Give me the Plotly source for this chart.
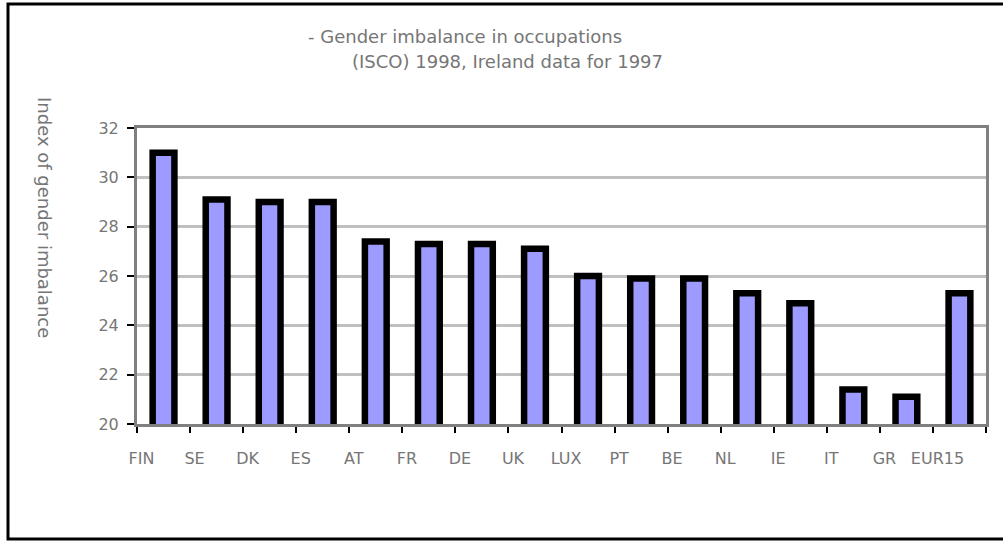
import plotly.graph_objects as go

# Data
countries = ['FIN', 'SE', 'DK', 'ES', 'AT', 'FR', 'DE', 'UK', 'LUX', 'PT',
             'BE', 'NL', 'IE', 'IT', 'GR', 'EUR15']
imbalance = [31.0, 29.1, 29.0, 29.0, 27.4, 27.3, 27.3, 27.1, 26.0, 25.9,
             25.9, 25.3, 24.9, 21.4, 21.1, 25.3]
y_ticks = [20, 22, 24, 26, 28, 30, 32]

title_lines = ['- Gender imbalance in occupations',
               '(ISCO) 1998, Ireland data for 1997']
y_title = 'Index of gender imbalance'

text_grey = '#767676'
font_name = 'DejaVu Sans'

# plot area in page pixels: x 137..986, y 128..424
def px_x(p):
    return (p - 137) / 849

def px_y(p):
    return (424 - p) / 296

fig = go.Figure()
fig.add_trace(go.Bar(
    x=countries, y=imbalance,
    width=0.41,
    marker=dict(color='#9D9BFF', line=dict(color='black', width=6.5)),
    hoverinfo='x+y'
))

# Axes
fig.update_xaxes(
    type='category',
    showline=True, linecolor='#808080', linewidth=3, mirror=True,
    ticks='outside', tickson='boundaries', ticklen=6, tickwidth=2, tickcolor='black',
    tickangle=0, ticklabelshift=-22, ticklabelstandoff=18,
    tickfont=dict(family=font_name, size=16, color=text_grey),
    showgrid=False
)
fig.update_yaxes(
    range=[20, 32], tickvals=y_ticks,
    showline=True, linecolor='#808080', linewidth=3, mirror=True,
    ticks='outside', ticklen=7, tickwidth=2, tickcolor='black',
    ticklabelstandoff=5,
    tickfont=dict(family=font_name, size=16, color=text_grey),
    showgrid=True, gridcolor='#C0C0C0', gridwidth=2.5,
    zeroline=False
)

# Title (two lines, second indented) and rotated axis title
fig.add_annotation(text=title_lines[0], xref='paper', yref='paper',
                   x=px_x(306), y=px_y(36),
                   xanchor='left', yanchor='middle', showarrow=False,
                   font=dict(family=font_name, size=18, color=text_grey))
fig.add_annotation(text=title_lines[1], xref='paper', yref='paper',
                   x=px_x(350), y=px_y(62),
                   xanchor='left', yanchor='middle', showarrow=False,
                   font=dict(family=font_name, size=18, color=text_grey))
fig.add_annotation(text=y_title, xref='paper', yref='paper',
                   x=px_x(45), y=px_y(217),
                   xanchor='center', yanchor='middle', showarrow=False,
                   textangle=90,
                   font=dict(family=font_name, size=18, color=text_grey))

# Outer frame
fig.add_shape(type='rect', xref='paper', yref='paper',
              x0=px_x(8), x1=px_x(1015),
              y0=px_y(539), y1=px_y(4),
              line=dict(color='black', width=3), fillcolor='rgba(0,0,0,0)',
              layer='below')

fig.update_layout(
    width=1003, height=543,
    margin=dict(l=137, r=17, t=128, b=119),
    plot_bgcolor='white', paper_bgcolor='white',
    showlegend=False
)

# drop the default body margin so the figure sits at the page corner
fig.write_html('out.html', config={'displayModeBar': False},
               post_script="document.body.style.margin='0';")
